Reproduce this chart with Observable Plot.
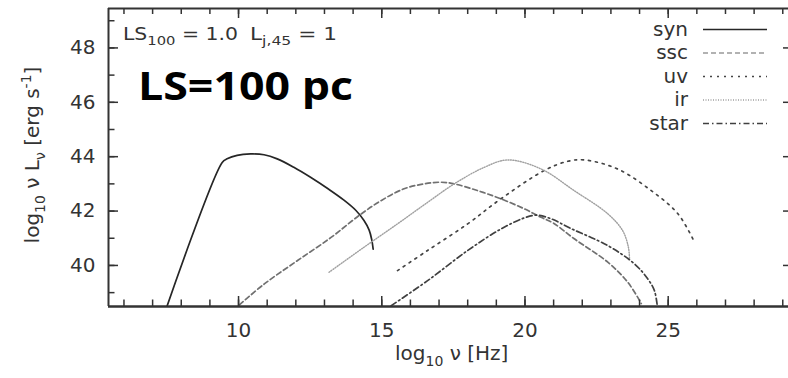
<!DOCTYPE html>
<html>
<head>
<meta charset="utf-8">
<script src="https://cdn.jsdelivr.net/npm/d3@7"></script>
<script src="https://cdn.jsdelivr.net/npm/@observablehq/plot@0.6"></script>
<style>
html, body { margin: 0; padding: 0; background: #fff; }
#chart { width: 788px; height: 378px; overflow: hidden; }
</style>
</head>
<body>
<div id="chart"></div>
<script>
// ---------- data ----------
const seriesNames = ["syn", "ssc", "uv", "ir", "star"];

const synX = [7.5, 9.43, 9.6, 9.95, 10.42, 10.89, 11.35, 11.93, 12.5, 13.15, 13.68, 14.1, 14.38, 14.56, 14.65, 14.7];
const synY = [38.49, 43.79, 43.92, 44.05, 44.1, 44.07, 43.92, 43.61, 43.25, 42.8, 42.4, 42.02, 41.65, 41.3, 40.95, 40.6];

const sscX = [10.03, 10.9, 12.06, 13.23, 14.2, 14.97, 15.78, 16.48, 17.06, 17.53, 18.35, 19.16, 19.98, 20.56, 21.0, 21.72, 22.89, 23.59, 24.06];
const sscY = [38.55, 39.32, 40.18, 41.03, 41.83, 42.38, 42.82, 43.0, 43.06, 43.0, 42.75, 42.45, 42.08, 41.77, 41.55, 40.98, 40.12, 39.38, 38.6];

const uvX = [15.55, 16.6, 18.0, 19.16, 20.67, 21.49, 22.07, 23.23, 24.41, 25.34, 25.92];
const uvY = [39.81, 40.55, 41.53, 42.45, 43.49, 43.83, 43.88, 43.55, 42.75, 41.9, 40.85];

const irX = [13.16, 14.38, 15.55, 16.6, 17.53, 18.58, 19.4, 20.56, 21.72, 22.89, 23.41, 23.61, 23.65];
const irY = [39.75, 40.67, 41.53, 42.32, 43.0, 43.61, 43.88, 43.55, 42.75, 41.9, 41.28, 40.67, 40.24];

const starX = [15.33, 16.6, 18.0, 19.16, 19.98, 20.4, 20.9, 21.6, 22.89, 23.82, 24.29, 24.52, 24.62];
const starY = [38.52, 39.44, 40.55, 41.34, 41.75, 41.85, 41.72, 41.36, 40.73, 40.06, 39.5, 39.07, 38.5];

const xTicksMajor = [10, 15, 20, 25];
const xTicksMinor = d3.range(6, 30);
const yTicksMajor = [40, 42, 44, 46, 48];
const yTicksMinor = d3.range(39, 50);

// ---------- layout / style ----------
const W = 788, H = 378;
const mL = 108, mT = 8, mR = 0, mB = 72;
const fw = W - mL - mR, fh = H - mT - mB;
const xDomain = [5.46, 29.2];
const yDomain = [38.49, 49.45];
const ink = "#333";

const styles = {
  syn:  { stroke: "#262626", strokeWidth: 1.7, strokeDasharray: null },
  ssc:  { stroke: "#707070", strokeWidth: 1.7, strokeDasharray: "5,3" },
  uv:   { stroke: "#444", strokeWidth: 1.7, strokeDasharray: "2,5" },
  ir:   { stroke: "#a0a0a0", strokeWidth: 1.4, strokeDasharray: "1,1.5" },
  star: { stroke: "#404040", strokeWidth: 1.7, strokeDasharray: "6,3,1.5,3" }
};

const seriesData = {
  syn: d3.zip(synX, synY).map(([x, y]) => ({x, y})),
  ssc: d3.zip(sscX, sscY).map(([x, y]) => ({x, y})),
  uv: d3.zip(uvX, uvY).map(([x, y]) => ({x, y})),
  ir: d3.zip(irX, irY).map(([x, y]) => ({x, y})),
  star: d3.zip(starX, starY).map(([x, y]) => ({x, y}))
};

const lineMarks = seriesNames.map(name => Plot.line(seriesData[name], {
  x: "x", y: "y",
  stroke: styles[name].stroke,
  strokeWidth: styles[name].strokeWidth,
  strokeDasharray: styles[name].strokeDasharray,
  curve: "catmull-rom",
  clip: true
}));

const svg = Plot.plot({
  width: W, height: H,
  marginLeft: mL, marginTop: mT, marginRight: mR, marginBottom: mB,
  style: { fontFamily: "DejaVu Sans", fontSize: "20px", color: ink, background: "white", overflow: "hidden" },
  x: { domain: xDomain, label: null },
  y: { domain: yDomain, label: null },
  marks: [
    ...lineMarks,
    // frame (left, bottom, top)
    Plot.ruleX([xDomain[0]], { stroke: ink, strokeWidth: 2 }),
    Plot.ruleY([yDomain[0]], { stroke: ink, strokeWidth: 2.6 }),
    Plot.ruleY([yDomain[1]], { stroke: ink, strokeWidth: 2 }),
    // inward ticks
    Plot.tickX(xTicksMinor, { x: d => d, insetTop: fh - 6.5, stroke: ink, strokeWidth: 1.5 }),
    Plot.tickX(xTicksMajor, { x: d => d, insetTop: fh - 10, stroke: ink, strokeWidth: 1.5 }),
    Plot.tickX(xTicksMinor, { x: d => d, insetBottom: fh - 6, stroke: ink, strokeWidth: 1.5 }),
    Plot.tickX(xTicksMajor, { x: d => d, insetBottom: fh - 10, stroke: ink, strokeWidth: 1.5 }),
    Plot.tickY(yTicksMinor, { y: d => d, insetRight: fw - 6.5, stroke: ink, strokeWidth: 1.5 }),
    Plot.tickY(yTicksMajor, { y: d => d, insetRight: fw - 10, stroke: ink, strokeWidth: 1.5 }),
    Plot.tickY(yTicksMajor, { y: d => d, insetLeft: fw - 5, stroke: ink, strokeWidth: 1.5 }),
    // tick labels
    Plot.axisX(xTicksMajor, { anchor: "bottom", tickSize: 0, tickPadding: 16, tickFormat: d => String(d), fontSize: 20, fill: ink, label: null }),
    Plot.axisY(yTicksMajor, { anchor: "left", tickSize: 0, tickPadding: 13, tickFormat: d => String(d), fontSize: 20, fill: ink, label: null })
  ]
});

const root = d3.select(svg);
const font = "DejaVu Sans";

// x axis label: log10 ν [Hz]
const xl = root.append("text")
  .attr("x", 395).attr("y", 360)
  .attr("text-anchor", "start")
  .attr("font-family", font).attr("font-size", 20).attr("fill", ink);
xl.append("tspan").text("log");
xl.append("tspan").attr("font-size", 14).attr("dy", 6).text("10");
xl.append("tspan").attr("dy", -6).text(" ν [Hz]");

// y axis label: log10 ν Lν [erg s-1]
const yl = root.append("text")
  .attr("transform", "translate(39,155) rotate(-90)")
  .attr("text-anchor", "middle")
  .attr("font-family", font).attr("font-size", 20).attr("fill", ink);
yl.append("tspan").text("log");
yl.append("tspan").attr("font-size", 14).attr("dy", 6).text("10");
yl.append("tspan").attr("dy", -6).text(" ν L");
yl.append("tspan").attr("font-size", 14).attr("dy", 6).text("ν");
yl.append("tspan").attr("dy", -6).text(" [erg s");
yl.append("tspan").attr("font-size", 14).attr("dy", -8).text("-1");
yl.append("tspan").attr("dy", 8).text("]");

// parameter annotation
const a1 = root.append("text")
  .attr("x", 123).attr("y", 40)
  .attr("text-anchor", "start")
  .attr("font-family", font).attr("font-size", 18).attr("fill", ink)
  .attr("textLength", 115).attr("lengthAdjust", "spacingAndGlyphs");
a1.append("tspan").text("LS");
a1.append("tspan").attr("font-size", 13).attr("dy", 5).text("100");
a1.append("tspan").attr("dy", -5).text(" = 1.0");

const a2 = root.append("text")
  .attr("x", 250).attr("y", 40)
  .attr("text-anchor", "start")
  .attr("font-family", font).attr("font-size", 18).attr("fill", ink)
  .attr("textLength", 87).attr("lengthAdjust", "spacingAndGlyphs");
a2.append("tspan").text("L");
a2.append("tspan").attr("font-size", 13).attr("dy", 5).text("j,45");
a2.append("tspan").attr("dy", -5).text(" = 1");

// big overlay title
root.append("text")
  .attr("x", 138).attr("y", 100)
  .attr("text-anchor", "start")
  .attr("font-family", "Open Sans").attr("font-weight", 700).attr("font-size", 40)
  .attr("fill", "#000")
  .attr("textLength", 215).attr("lengthAdjust", "spacingAndGlyphs")
  .text("LS=100 pc");

// legend
const legendBaselines = [35.5, 59, 82.5, 106, 129.5];
seriesNames.forEach((name, i) => {
  const by = legendBaselines[i];
  root.append("text")
    .attr("x", 688).attr("y", by)
    .attr("text-anchor", "end")
    .attr("font-family", font).attr("font-size", 20).attr("fill", ink)
    .text(name);
  const st = styles[name];
  root.append("line")
    .attr("x1", 703).attr("x2", 767)
    .attr("y1", by - 6).attr("y2", by - 6)
    .attr("stroke", name === "ssc" ? "#999" : st.stroke)
    .attr("stroke-width", st.strokeWidth)
    .attr("stroke-dasharray", st.strokeDasharray);
});

document.getElementById("chart").appendChild(svg);
</script>
</body>
</html>
